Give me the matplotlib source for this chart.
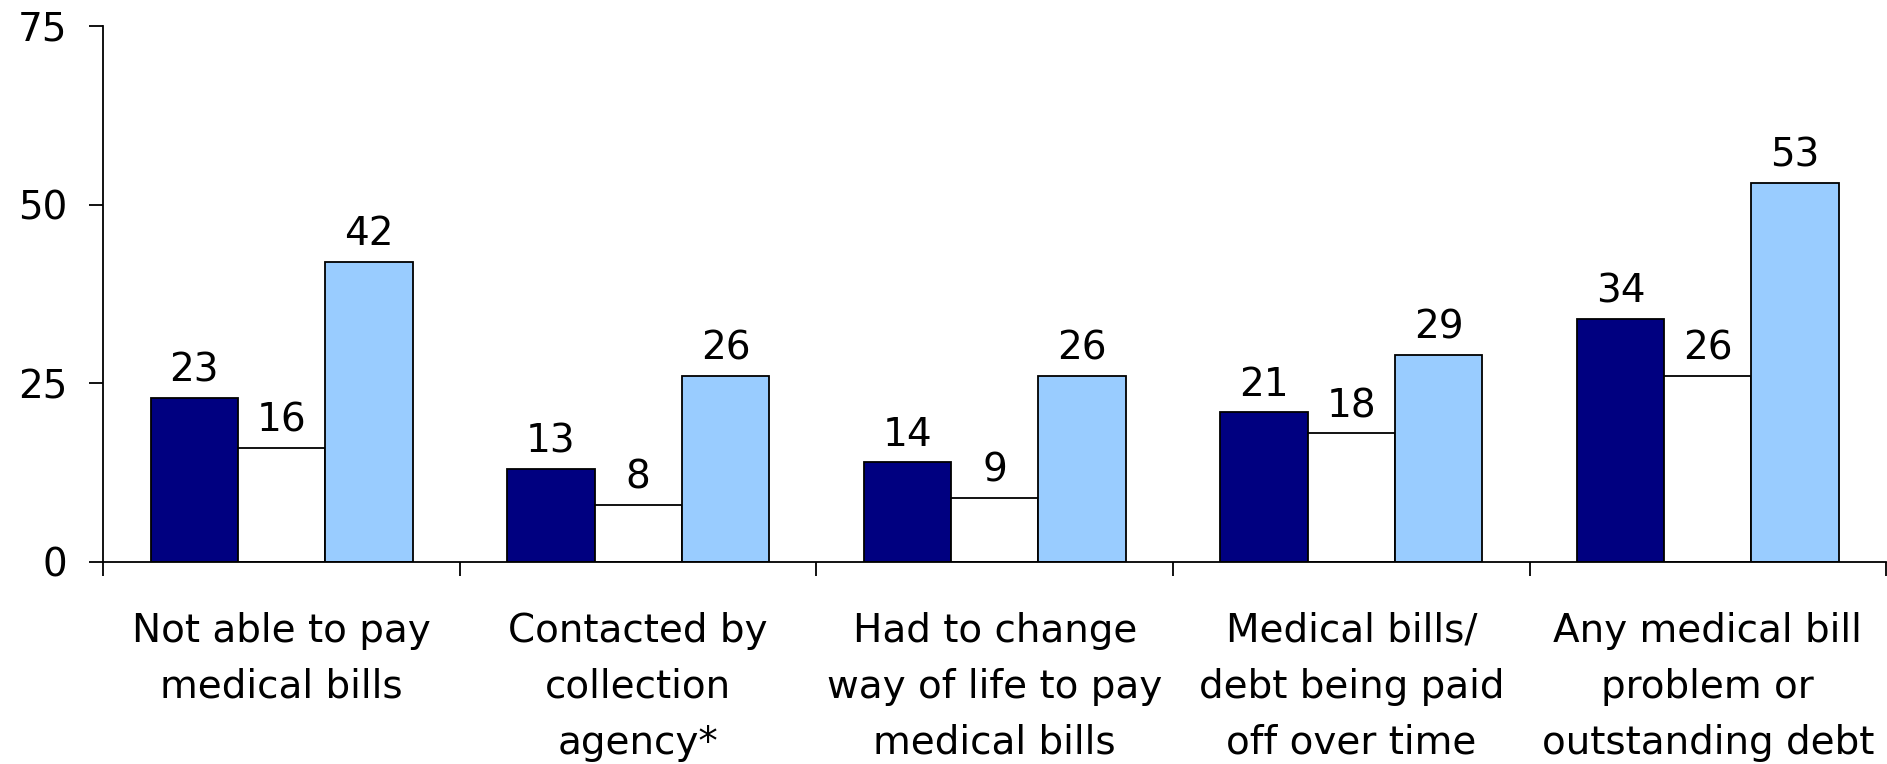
import numpy as np
import matplotlib
matplotlib.use('Agg')
import matplotlib.pyplot as plt

# Data
categories = [
    'Not able to pay\nmedical bills',
    'Contacted by\ncollection\nagency*',
    'Had to change\nway of life to pay\nmedical bills',
    'Medical bills/\ndebt being paid\noff over time',
    'Any medical bill\nproblem or\noutstanding debt',
]
dark_vals = [23, 13, 14, 21, 34]
white_vals = [16, 8, 9, 18, 26]
light_vals = [42, 26, 26, 29, 53]
y_ticks = [0, 25, 50, 75]

plt.rcParams['font.family'] = ['DejaVu Sans']
fs = 28

fig = plt.figure(figsize=(18.87, 7.64), dpi=100)
ax = fig.add_axes([0.0548, 0.2644, 0.9447, 0.7016])

x = np.arange(len(categories))
w = 0.245
series = [
    (dark_vals, '#000080', -w),
    (white_vals, '#ffffff', 0),
    (light_vals, '#99ccff', w),
]
for vals, col, off in series:
    bars = ax.bar(x + off, vals, width=w, color=col, edgecolor='black', linewidth=1.3, zorder=2)
    for b, v in zip(bars, vals):
        ax.annotate(str(v), (b.get_x() + b.get_width() / 2, v), xytext=(0, 6),
                    textcoords='offset points', ha='center', va='bottom', fontsize=fs)

ax.set_xlim(-0.5, len(categories) - 0.5)
ax.set_ylim(0, 75)
ax.set_yticks(y_ticks)
ax.tick_params(axis='y', labelsize=fs, length=10, width=1.3, pad=16, direction='out')

# category boundaries as ticks, names at centers
ax.set_xticks(np.arange(len(categories) + 1) - 0.5)
ax.set_xticklabels([])
ax.tick_params(axis='x', which='major', length=10, width=1.3, direction='out')
ax.set_xticks(x, minor=True)
ax.set_xticklabels(categories, minor=True, fontsize=fs, linespacing=1.6)
ax.tick_params(axis='x', which='minor', length=0, pad=36)

for s in ['top', 'right']:
    ax.spines[s].set_visible(False)
for s in ['left', 'bottom']:
    ax.spines[s].set_linewidth(1.3)

fig.savefig('out.png', dpi=100)
